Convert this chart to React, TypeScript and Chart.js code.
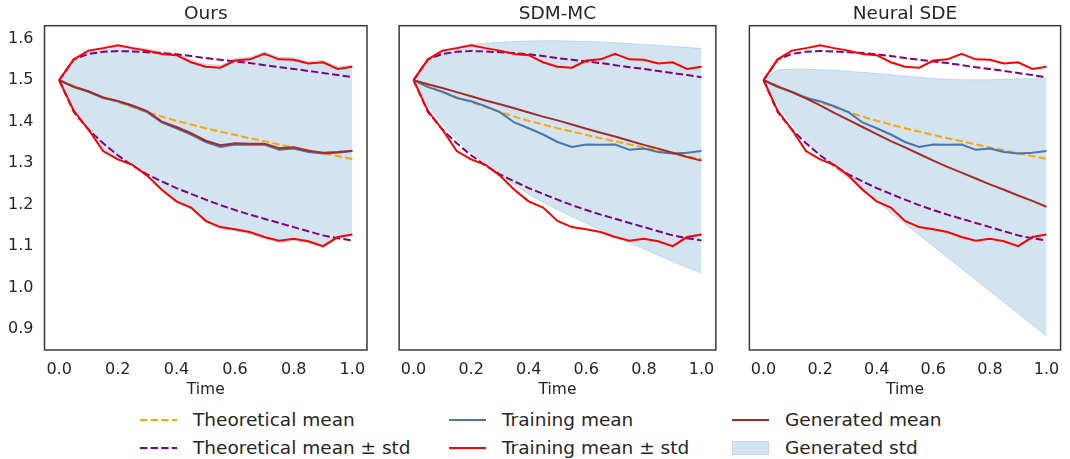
import React, { useEffect, useRef } from 'react';
import { Chart, registerables } from 'chart.js';

Chart.register(...registerables);

// ---------------- data ----------------
const TIME = [0, 0.05, 0.1, 0.15, 0.2, 0.25, 0.3, 0.35, 0.4, 0.45, 0.5, 0.55, 0.6, 0.65, 0.7, 0.75, 0.8, 0.85, 0.9, 0.95, 1.0];

const THEO_MEAN = [1.500, 1.486, 1.472, 1.459, 1.447, 1.435, 1.423, 1.412, 1.402, 1.393, 1.384, 1.376, 1.368, 1.360, 1.353, 1.345, 1.338, 1.331, 1.324, 1.317, 1.310];
const THEO_UPPER = [1.500, 1.550, 1.563, 1.568, 1.570, 1.569, 1.567, 1.565, 1.562, 1.558, 1.553, 1.549, 1.545, 1.541, 1.536, 1.531, 1.527, 1.522, 1.517, 1.512, 1.507];
const THEO_LOWER = [1.500, 1.423, 1.381, 1.348, 1.319, 1.294, 1.273, 1.256, 1.240, 1.226, 1.212, 1.199, 1.187, 1.176, 1.166, 1.156, 1.146, 1.136, 1.126, 1.119, 1.114];

const TRAIN_MEAN = [1.500, 1.483, 1.472, 1.457, 1.449, 1.437, 1.423, 1.398, 1.384, 1.369, 1.351, 1.339, 1.345, 1.344, 1.345, 1.332, 1.335, 1.327, 1.323, 1.325, 1.329];
const TRAIN_UPPER = [1.500, 1.550, 1.571, 1.577, 1.584, 1.577, 1.571, 1.563, 1.560, 1.543, 1.532, 1.530, 1.547, 1.550, 1.563, 1.550, 1.549, 1.540, 1.543, 1.527, 1.532];
const TRAIN_LOWER = [1.500, 1.426, 1.381, 1.329, 1.309, 1.296, 1.270, 1.236, 1.208, 1.193, 1.161, 1.146, 1.141, 1.134, 1.122, 1.113, 1.118, 1.112, 1.100, 1.122, 1.128];

const OURS_GEN_MEAN = [1.500, 1.484, 1.473, 1.458, 1.450, 1.439, 1.425, 1.400, 1.387, 1.372, 1.354, 1.343, 1.348, 1.347, 1.347, 1.336, 1.338, 1.330, 1.325, 1.327, 1.330];
const OURS_GEN_UPPER = [1.500, 1.550, 1.570, 1.577, 1.583, 1.580, 1.575, 1.568, 1.565, 1.549, 1.538, 1.536, 1.552, 1.555, 1.568, 1.555, 1.554, 1.545, 1.547, 1.532, 1.536];
const OURS_GEN_LOWER = [1.500, 1.428, 1.383, 1.333, 1.311, 1.297, 1.269, 1.233, 1.205, 1.189, 1.157, 1.142, 1.137, 1.130, 1.118, 1.109, 1.114, 1.108, 1.096, 1.119, 1.125];

const SDM_GEN_MEAN = [1.500, 1.490, 1.481, 1.471, 1.461, 1.451, 1.442, 1.432, 1.422, 1.412, 1.403, 1.393, 1.383, 1.373, 1.364, 1.354, 1.344, 1.335, 1.325, 1.315, 1.306];
const SDM_GEN_UPPER = [1.500, 1.545, 1.568, 1.580, 1.586, 1.589, 1.591, 1.593, 1.594, 1.595, 1.595, 1.594, 1.593, 1.592, 1.590, 1.588, 1.586, 1.584, 1.581, 1.579, 1.576];
const SDM_GEN_LOWER = [1.500, 1.440, 1.395, 1.357, 1.326, 1.298, 1.272, 1.248, 1.225, 1.205, 1.188, 1.171, 1.155, 1.139, 1.123, 1.108, 1.093, 1.078, 1.063, 1.049, 1.035];

const NSDE_GEN_MEAN = [1.500, 1.485, 1.471, 1.456, 1.439, 1.421, 1.404, 1.387, 1.370, 1.353, 1.338, 1.322, 1.306, 1.291, 1.277, 1.263, 1.249, 1.236, 1.222, 1.209, 1.195];
const NSDE_GEN_UPPER = [1.500, 1.525, 1.526, 1.526, 1.525, 1.524, 1.521, 1.519, 1.516, 1.513, 1.510, 1.507, 1.504, 1.502, 1.501, 1.501, 1.501, 1.502, 1.503, 1.504, 1.505];
const NSDE_GEN_LOWER = [1.500, 1.442, 1.394, 1.354, 1.318, 1.290, 1.264, 1.237, 1.209, 1.181, 1.154, 1.127, 1.100, 1.073, 1.046, 1.019, 0.992, 0.965, 0.938, 0.911, 0.884];

const PANEL_TITLES = ['Ours', 'SDM-MC', 'Neural SDE'];
const X_TICKS = [0, 0.2, 0.4, 0.6, 0.8, 1.0];
const Y_TICKS = [0.9, 1.0, 1.1, 1.2, 1.3, 1.4, 1.5, 1.6];
const X_LABEL = 'Time';
const LEGEND_LABELS = [
  'Theoretical mean',
  'Theoretical mean \u00b1 std',
  'Training mean',
  'Training mean \u00b1 std',
  'Generated mean',
  'Generated std',
];

// ---------------- styles ----------------
const FONT = "'DejaVu Sans', 'Liberation Sans', sans-serif";
const TEXT = '#262626';
const C_ORANGE = '#ffa500';
const C_PURPLE = '#800080';
const C_BLUE = '#4c72b0';
const C_RED = '#ff0000';
const C_BROWN = '#a52a2a';
const C_FILL = 'rgba(31,119,180,0.2)';
const DASH = [7.4, 3.2];
const LW = 2;

const X_MIN = -0.05;
const X_MAX = 1.05;
const Y_MIN = 0.85;
const Y_MAX = 1.631;

const pts = (ys: number[]) => TIME.map((t, i) => ({ x: t, y: ys[i] }));

const framePlugin = {
  id: 'frame',
  afterDraw(chart: any) {
    const { ctx, chartArea } = chart;
    const { left, top, right, bottom } = chartArea;
    ctx.save();
    ctx.strokeStyle = '#3a3a3a';
    ctx.lineWidth = 1.5;
    ctx.strokeRect(left, top, right - left, bottom - top);
    ctx.restore();
  },
};

type PanelProps = {
  title: string;
  genMean: number[];
  genUpper: number[];
  genLower: number[];
  showY: boolean;
  left: number;
  width: number;
  padLeft: number;
  padRight: number;
};

const CANVAS_H = 400;

function Panel(p: PanelProps) {
  const ref = useRef<HTMLCanvasElement | null>(null);
  useEffect(() => {
    if (!ref.current) return;
    const line = (data: number[], color: string, dashed = false) => ({
      data: pts(data),
      borderColor: color,
      backgroundColor: color,
      borderWidth: LW,
      borderDash: dashed ? DASH : [],
      pointRadius: 0,
      fill: false,
      tension: 0,
    });
    const chart = new Chart(ref.current, {
      type: 'line',
      data: {
        datasets: [
          line(p.genMean, C_BROWN),
          line(TRAIN_UPPER, C_RED),
          line(TRAIN_LOWER, C_RED),
          line(TRAIN_MEAN, C_BLUE),
          line(THEO_UPPER, C_PURPLE, true),
          line(THEO_LOWER, C_PURPLE, true),
          line(THEO_MEAN, C_ORANGE, true),
          {
            data: pts(p.genUpper),
            borderColor: C_FILL,
            backgroundColor: C_FILL,
            borderWidth: 1,
            pointRadius: 0,
            fill: { target: 8 },
            tension: 0,
          },
          {
            data: pts(p.genLower),
            borderColor: C_FILL,
            backgroundColor: C_FILL,
            borderWidth: 1,
            pointRadius: 0,
            fill: false,
            tension: 0,
          },
        ] as any,
      },
      options: {
        animation: false,
        responsive: false,
        maintainAspectRatio: false,
        devicePixelRatio: 1,
        events: [],
        layout: { padding: { left: p.padLeft, right: p.padRight, top: 0, bottom: 0 } },
        plugins: {
          legend: { display: false },
          tooltip: { enabled: false },
          filler: { drawTime: 'beforeDatasetsDraw' },
          title: {
            display: true,
            text: p.title,
            fullSize: false,
            color: TEXT,
            font: { family: FONT, size: 18.5, weight: 'normal', lineHeight: 1.2 },
            padding: { top: 3, bottom: 0.5 },
          },
        } as any,
        scales: {
          x: {
            type: 'linear',
            min: X_MIN,
            max: X_MAX,
            afterBuildTicks: (s: any) => {
              s.ticks = X_TICKS.map((v) => ({ value: v }));
            },
            afterFit: (s: any) => {
              s.height = 50;
            },
            ticks: {
              callback: (v: any) => Number(v).toFixed(1),
              color: TEXT,
              font: { family: FONT, size: 16 },
              padding: 10.4,
              maxRotation: 0,
              autoSkip: false,
            },
            grid: { display: false, drawTicks: false, tickLength: 0 },
            border: { display: false },
            title: {
              display: true,
              text: X_LABEL,
              color: TEXT,
              font: { family: FONT, size: 15.5, lineHeight: 1.2 },
              padding: { top: 0, bottom: 0.7 },
            },
          },
          y: {
            type: 'linear',
            min: Y_MIN,
            max: Y_MAX,
            display: p.showY,
            afterBuildTicks: (s: any) => {
              s.ticks = Y_TICKS.map((v) => ({ value: v }));
            },
            afterFit: (s: any) => {
              s.width = p.showY ? 44.5 - p.padLeft : 0;
            },
            ticks: {
              callback: (v: any) => Number(v).toFixed(1),
              color: TEXT,
              font: { family: FONT, size: 16 },
              padding: 11,
              autoSkip: false,
            },
            grid: { display: false, drawTicks: false, tickLength: 0 },
            border: { display: false },
          },
        } as any,
      },
      plugins: [framePlugin],
    } as any);
    return () => chart.destroy();
  }, []);
  return (
    <canvas
      ref={ref}
      width={p.width}
      height={CANVAS_H}
      style={{ position: 'absolute', left: p.left, top: 0, width: p.width, height: CANVAS_H }}
    />
  );
}

function LegendItem(props: { x: number; y: number; label: string; kind: 'line' | 'dash' | 'patch'; color: string }) {
  const { x, y, label, kind, color } = props;
  return (
    <div style={{ position: 'absolute', left: x, top: y - 12, height: 24, display: 'flex', alignItems: 'center', whiteSpace: 'nowrap' }}>
      <svg width={37} height={24} style={{ display: 'block' }}>
        {kind === 'patch' ? (
          <rect x={0.5} y={5.5} width={36} height={13} fill={C_FILL} stroke={C_FILL} strokeWidth={1} />
        ) : (
          <line
            x1={0}
            y1={12}
            x2={37}
            y2={12}
            stroke={color}
            strokeWidth={LW}
            strokeDasharray={kind === 'dash' ? DASH.join(' ') : undefined}
          />
        )}
      </svg>
      <span style={{ marginLeft: 16, fontFamily: FONT, fontSize: 18.5, color: TEXT, lineHeight: '24px' }}>{label}</span>
    </div>
  );
}

export default function App() {
  return (
    <div style={{ position: 'absolute', left: 0, top: 0, width: 1070, height: 459, background: '#ffffff', overflow: 'hidden' }}>
      <Panel title={PANEL_TITLES[0]} genMean={OURS_GEN_MEAN} genUpper={OURS_GEN_UPPER} genLower={OURS_GEN_LOWER} showY={true} left={0} width={380} padLeft={0} padRight={13} />
      <Panel title={PANEL_TITLES[1]} genMean={SDM_GEN_MEAN} genUpper={SDM_GEN_UPPER} genLower={SDM_GEN_LOWER} showY={false} left={390} width={335} padLeft={5.7} padRight={6.7} />
      <Panel title={PANEL_TITLES[2]} genMean={NSDE_GEN_MEAN} genUpper={NSDE_GEN_UPPER} genLower={NSDE_GEN_LOWER} showY={false} left={740} width={330} padLeft={6.7} padRight={1.7} />
      <LegendItem x={140} y={420} label={LEGEND_LABELS[0]} kind="dash" color={C_ORANGE} />
      <LegendItem x={140} y={448} label={LEGEND_LABELS[1]} kind="dash" color={C_PURPLE} />
      <LegendItem x={449} y={420} label={LEGEND_LABELS[2]} kind="line" color={C_BLUE} />
      <LegendItem x={449} y={448} label={LEGEND_LABELS[3]} kind="line" color={C_RED} />
      <LegendItem x={732} y={420} label={LEGEND_LABELS[4]} kind="line" color={C_BROWN} />
      <LegendItem x={732} y={448} label={LEGEND_LABELS[5]} kind="patch" color={C_FILL} />
    </div>
  );
}
